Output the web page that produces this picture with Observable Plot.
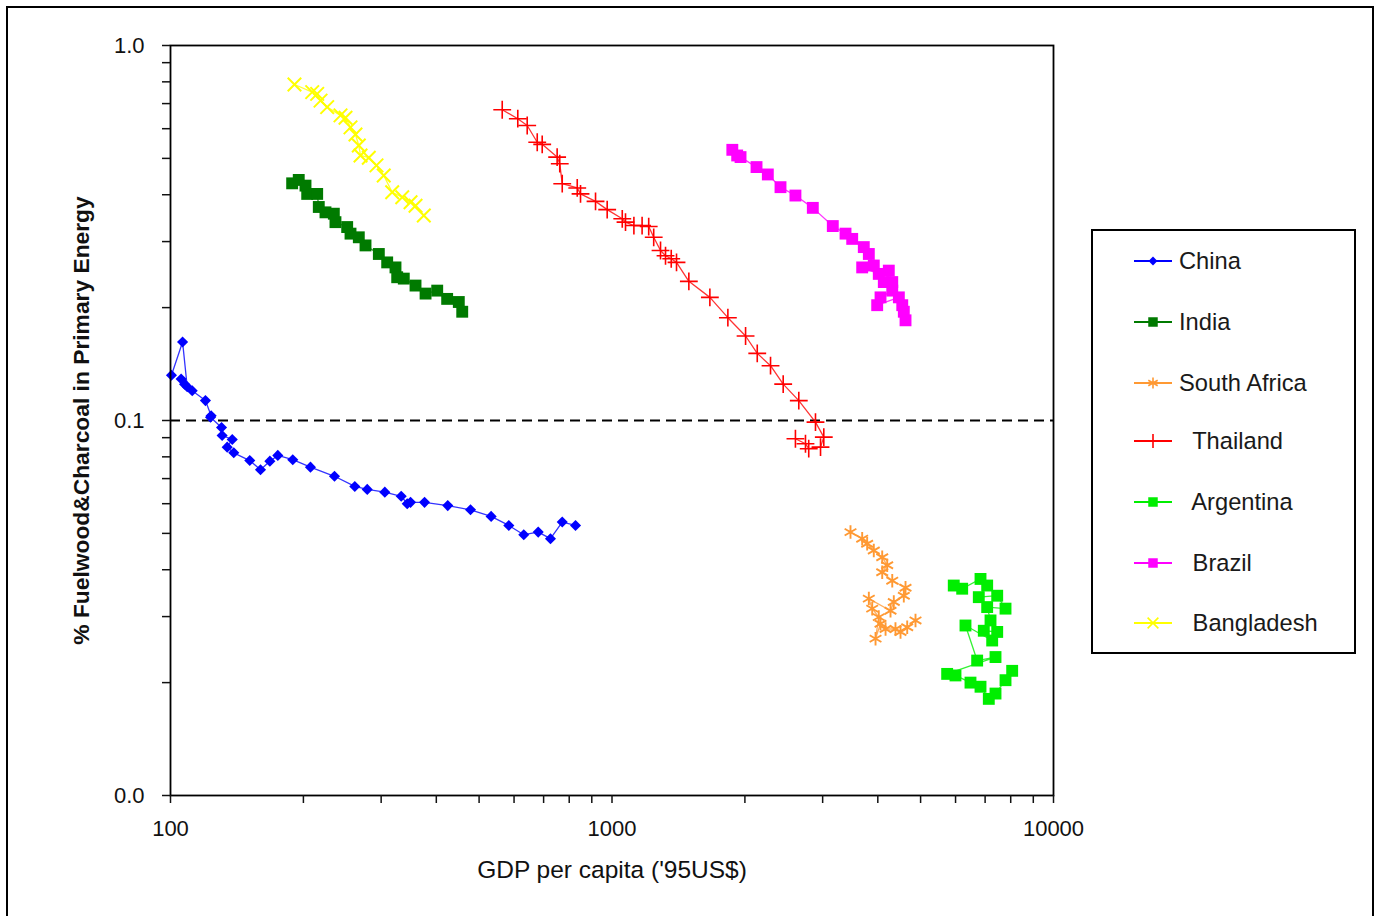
<!DOCTYPE html>
<html>
<head>
<meta charset="utf-8">
<script src="https://cdn.jsdelivr.net/npm/d3@7"></script>
<script src="https://cdn.jsdelivr.net/npm/@observablehq/plot@0.6"></script>
<style>
  html, body { margin: 0; padding: 0; background: #fff; }
  #wrap { position: relative; width: 1378px; height: 916px; overflow: hidden; font-family: "Liberation Sans", Arial, sans-serif; }
  #border { position: absolute; left: 6px; top: 6px; width: 1368px; height: 1000px; border: 2px solid #000; box-sizing: border-box; pointer-events: none; }
  #chart { position: absolute; left: 0; top: 0; }
  #legend { position: absolute; left: 1091px; top: 229px; width: 265px; height: 425px; border: 2px solid #000; box-sizing: border-box; background: #fff; }
  .item { position: absolute; left: 40px; height: 30px; display: flex; align-items: center; font-size: 23.7px; color: #1a1a1a; white-space: pre; }
  .item svg { margin-right: 6px; }
  g[aria-label="y-axis label"] text { font-weight: bold; font-size: 22.8px; }
  g[aria-label="x-axis label"] text { font-size: 24.5px; }
  g[aria-label="x-axis tick label"] text { font-size: 22px; }
  g[aria-label="y-axis tick label"] text { font-size: 22px; }
</style>
</head>
<body>
<div id="wrap">
  <div id="chart"></div>
  <div id="legend"></div>
  <div id="border"></div>
</div>
<script>
// ---- Series metadata ----
const seriesNames   = ["China", "India", "South Africa", "Thailand", "Argentina", "Brazil", "Bangladesh"];
const legendLabels  = ["China", "India", "South Africa", " Thailand", " Argentina", " Brazil", " Bangladesh"];
const seriesColors  = ["#0000ff", "#007a00", "#ff9933", "#ff0000", "#00ee00", "#ff00ff", "#ffff00"];
const seriesSymbols = ["diamond2", "square", "asterisk", "plus", "square", "square", "times"];

// ---- Data: GDP per capita ('95 US$) and fuelwood & charcoal share ----
const chinaGDP   = [100.5, 106.5, 109.1, 105.7, 107.6, 112.0, 120.0, 123.6, 123.2, 130.5, 130.9, 138.0, 134.4, 139.1, 151.2, 159.9, 167.9, 175.0, 189.2, 207.5, 235.2, 261.5, 279.0, 305.8, 333.1, 343.7, 349.7, 376.2, 424.6, 478.1, 532.4, 583.8, 631.2, 680.6, 725.5, 771.4, 826.8];
const chinaShare = [0.132, 0.162, 0.123, 0.129, 0.125, 0.120, 0.113, 0.103, 0.102, 0.0958, 0.0912, 0.089, 0.0849, 0.082, 0.0782, 0.0739, 0.0779, 0.0807, 0.0786, 0.0751, 0.0710, 0.0667, 0.0655, 0.0644, 0.0628, 0.0600, 0.0605, 0.0605, 0.0593, 0.0578, 0.0555, 0.0525, 0.0496, 0.0504, 0.0484, 0.0536, 0.0525];

const indiaGDP   = [188.6, 195.2, 202.2, 204.0, 214.9, 216.7, 224.4, 234.4, 236.4, 251.3, 255.7, 267.0, 276.5, 296.4, 309.6, 323.3, 326.2, 337.6, 358.9, 378.2, 401.9, 423.3, 449.8, 457.9];
const indiaShare = [0.429, 0.438, 0.423, 0.402, 0.402, 0.371, 0.359, 0.356, 0.338, 0.328, 0.315, 0.308, 0.293, 0.278, 0.264, 0.256, 0.241, 0.239, 0.229, 0.218, 0.222, 0.211, 0.207, 0.195];

const southAfricaGDP   = [3469, 3687, 3784, 3917, 4093, 4201, 4093, 4313, 4622, 4581, 4348, 4274, 3817, 3885, 4020, 3953, 4057, 4165, 4386, 4503, 4663, 4869];
const southAfricaShare = [0.0504, 0.0484, 0.0469, 0.0450, 0.0432, 0.0411, 0.0394, 0.0374, 0.0358, 0.0341, 0.0328, 0.0311, 0.0335, 0.0315, 0.0299, 0.0262, 0.0287, 0.0278, 0.0278, 0.0273, 0.0281, 0.0293];

const thailandGDP   = [564.1, 611.8, 642.6, 677.1, 694.9, 751.2, 761.5, 771.4, 834.2, 848.6, 917.7, 975.2, 1055, 1073, 1121, 1170, 1211, 1243, 1288, 1322, 1362, 1400, 1493, 1666, 1830, 2007, 2133, 2286, 2442, 2649, 2890, 3018, 2967, 2790, 2743, 2603];
const thailandShare = [0.674, 0.638, 0.612, 0.552, 0.545, 0.504, 0.484, 0.428, 0.417, 0.402, 0.384, 0.365, 0.345, 0.338, 0.331, 0.331, 0.329, 0.308, 0.284, 0.275, 0.270, 0.264, 0.235, 0.213, 0.188, 0.168, 0.151, 0.140, 0.125, 0.113, 0.099, 0.0903, 0.0849, 0.0841, 0.0867, 0.0894];

const argentinaGDP   = [5944, 6211, 6834, 7076, 6773, 7456, 7786, 7076, 7200, 6952, 7456, 7263, 6319, 6716, 7390, 5743, 5998, 6486, 6834, 7136, 7390, 7786, 8061];
const argentinaShare = [0.0363, 0.0356, 0.0378, 0.0363, 0.0338, 0.0341, 0.0315, 0.0318, 0.0293, 0.0275, 0.0273, 0.0259, 0.0284, 0.0229, 0.0234, 0.0211, 0.0209, 0.0200, 0.0195, 0.0181, 0.0187, 0.0203, 0.0215];

const brazilGDP   = [1873, 1921, 1955, 2125, 2254, 2408, 2603, 2850, 3163, 3380, 3500, 3718, 3817, 3917, 3687, 4020, 4236, 4313, 4127, 4313, 4057, 3987, 4464, 4544, 4581, 4622];
const brazilShare = [0.527, 0.509, 0.504, 0.474, 0.453, 0.419, 0.398, 0.369, 0.330, 0.315, 0.305, 0.290, 0.278, 0.259, 0.256, 0.246, 0.251, 0.234, 0.234, 0.222, 0.213, 0.203, 0.213, 0.203, 0.195, 0.185];

const bangladeshGDP   = [190.9, 209.4, 214.9, 218.7, 226.4, 242.7, 249.1, 255.7, 262.4, 267.0, 269.4, 281.3, 292.8, 304.1, 317.8, 334.9, 349.7, 358.9, 374.8];
const bangladeshShare = [0.787, 0.751, 0.743, 0.713, 0.685, 0.651, 0.642, 0.605, 0.579, 0.541, 0.509, 0.502, 0.479, 0.450, 0.406, 0.394, 0.382, 0.374, 0.352];

// ---- Axes ----
const xTickValues = [100, 200, 300, 400, 500, 600, 700, 800, 900, 1000, 2000, 3000, 4000, 5000, 6000, 7000, 8000, 9000, 10000];
const xTickLabels = {100: "100", 1000: "1000", 10000: "10000"};
const yTickValues = [0.01, 0.02, 0.03, 0.04, 0.05, 0.06, 0.07, 0.08, 0.09, 0.1, 0.2, 0.3, 0.4, 0.5, 0.6, 0.7, 0.8, 0.9, 1];
const yTickLabels = {0.01: "0.0", 0.1: "0.1", 1: "1.0"};
const xTitle = "GDP per capita ('95US$)";
const yTitle = "% Fuelwood&Charcoal in Primary Energy";
const thresholdLine = [0.1];

// ---- Build tidy table ----
const gdpLists   = [chinaGDP, indiaGDP, southAfricaGDP, thailandGDP, argentinaGDP, brazilGDP, bangladeshGDP];
const shareLists = [chinaShare, indiaShare, southAfricaShare, thailandShare, argentinaShare, brazilShare, bangladeshShare];
const seriesData = seriesNames.map((name, i) =>
  gdpLists[i].map((g, j) => ({country: name, gdp: g, share: shareLists[i][j]}))
);

const filledSymbols = new Set(["diamond2", "square"]);
const symbolRadius = {"diamond2": 5.0, "square": 6.7, "asterisk": 6.4, "plus": 5.8, "times": 6.2};
const symbolStroke = {"asterisk": 1.9, "plus": 1.6, "times": 2.0};

const marks = [
  Plot.ruleY(thresholdLine, {stroke: "#000", strokeWidth: 2, strokeDasharray: "10,6"})
];
seriesNames.forEach((name, i) => {
  const data = seriesData[i];
  const color = seriesColors[i];
  const sym = seriesSymbols[i];
  marks.push(Plot.line(data, {x: "gdp", y: "share", stroke: color, strokeWidth: 1.3, strokeOpacity: 0.8}));
  if (filledSymbols.has(sym)) {
    marks.push(Plot.dot(data, {x: "gdp", y: "share", symbol: () => sym, fill: color, stroke: "none", r: symbolRadius[sym]}));
  } else {
    marks.push(Plot.dot(data, {x: "gdp", y: "share", symbol: () => sym, stroke: color, fill: "none", strokeWidth: symbolStroke[sym], r: symbolRadius[sym]}));
  }
});
marks.push(Plot.frame({stroke: "#000", strokeWidth: 1.8}));
marks.push(Plot.axisX({
  ticks: xTickValues,
  tickFormat: d => xTickLabels[d] ?? "",
  tickSize: 8,
  tickPadding: 17,
  strokeWidth: 1.5,
  label: xTitle,
  labelAnchor: "center",
  labelArrow: "none",
  labelOffset: 82
}));
marks.push(Plot.axisY({
  ticks: yTickValues,
  tickFormat: d => yTickLabels[d] ?? "",
  tickSize: 8,
  tickPadding: 18,
  strokeWidth: 1.5,
  label: yTitle,
  labelAnchor: "center",
  labelArrow: "none",
  labelOffset: 98
}));

const chart = Plot.plot({
  width: 1378,
  height: 916,
  marginLeft: 170,
  marginRight: 325,
  marginTop: 45,
  marginBottom: 121,
  x: {type: "log", domain: [100, 10000]},
  y: {type: "log", domain: [0.01, 1]},
  style: {
    fontFamily: "'Liberation Sans', Arial, sans-serif",
    fontSize: "21px",
    color: "#111",
    background: "transparent",
    overflow: "visible"
  },
  marks
});
document.getElementById("chart").appendChild(chart);

// ---- Legend (HTML) ----
const legend = document.getElementById("legend");
const rowTops = [261, 322, 383, 441, 502, 563, 623];
seriesNames.forEach((name, i) => {
  const item = document.createElement("div");
  item.className = "item";
  item.style.top = (rowTops[i] - 229 - 2 - 15) + "px";
  const svg = d3.create("svg").attr("width", 40).attr("height", 20);
  svg.append("line").attr("x1", 1).attr("x2", 39).attr("y1", 10).attr("y2", 10)
     .attr("stroke", seriesColors[i]).attr("stroke-width", 2);
  const sym = seriesSymbols[i];
  const d3sym = {"diamond2": d3.symbolDiamond2, "square": d3.symbolSquare, "asterisk": d3.symbolAsterisk, "plus": d3.symbolPlus, "times": d3.symbolTimes}[sym];
  const size = Math.PI * Math.pow(symbolRadius[sym] * 0.8, 2);
  const p = svg.append("path").attr("d", d3.symbol(d3sym, size)()).attr("transform", "translate(20,10)");
  if (filledSymbols.has(sym)) p.attr("fill", seriesColors[i]);
  else p.attr("fill", "none").attr("stroke", seriesColors[i]).attr("stroke-width", 1.6);
  item.appendChild(svg.node());
  const span = document.createElement("span");
  span.textContent = legendLabels[i];
  if (i >= 3) span.style.marginLeft = "7px";
  item.appendChild(span);
  legend.appendChild(item);
});
</script>
</body>
</html>
